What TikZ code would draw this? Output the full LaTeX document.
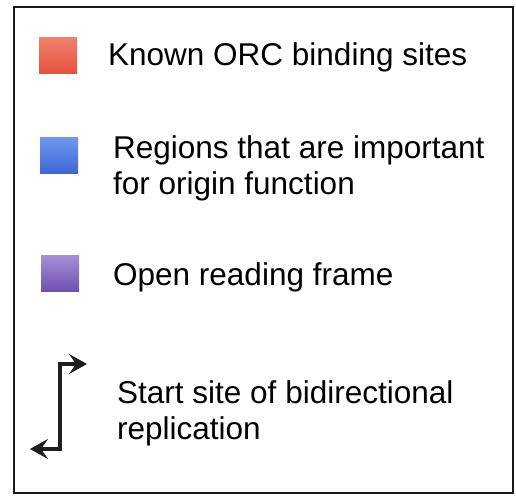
\documentclass[tikz,border=0pt]{standalone}
\usepackage{fontspec}
\setmainfont{Liberation Sans}
\usetikzlibrary{arrows.meta}
\definecolor{redtop}{HTML}{F2806E}
\definecolor{redbot}{HTML}{E4533E}
\definecolor{bluetop}{HTML}{7098EE}
\definecolor{bluebot}{HTML}{3E66D6}
\definecolor{purtop}{HTML}{A890D8}
\definecolor{purbot}{HTML}{6C50AE}
\begin{document}
\begin{tikzpicture}[x=1pt,y=-1pt,
  frame/.style={draw=black!90,line width=2.2pt},
  swatch/.style={minimum width=38pt,minimum height=36pt,inner sep=0pt,anchor=north west,shading=axis,shading angle=0},
  label/.style={anchor=base west,align=left,inner sep=0pt,font=\fontsize{31.5}{36}\selectfont,text=black},
  repl/.style={line width=3.8pt,draw=black!88,-{Stealth[length=18pt,width=20pt,inset=7pt]}}]
\useasboundingbox (0,0) rectangle (516,495);
\node[frame,minimum width=499pt,minimum height=486pt,inner sep=0pt,anchor=north west] (box) at (13,6) {};
\node[swatch,top color=redtop,bottom color=redbot] (red) at (39,37) {};
\node[swatch,top color=bluetop,bottom color=bluebot] (blue) at (40,137) {};
\node[swatch,top color=purtop,bottom color=purbot] (purple) at (41,255) {};
\node[label] (t1) at (108,65) {Known ORC binding sites};
\node[label] (t2) at (113,194) {Regions that are important\\for origin function};
\node[label] (t3) at (113,285) {Open reading frame};
\node[label] (t4) at (117,439) {Start site of bidirectional\\replication};
\coordinate (mid) at (60,407);
\coordinate (topc) at (60,364);
\coordinate (botc) at (60,449);
\coordinate (rtip) at (87,364);
\coordinate (ltip) at (30,449);
\draw[repl,line join=miter] (mid) -- (topc) -- (rtip);
\draw[repl,line join=miter] (mid) -- (botc) -- (ltip);
\end{tikzpicture}
\end{document}
